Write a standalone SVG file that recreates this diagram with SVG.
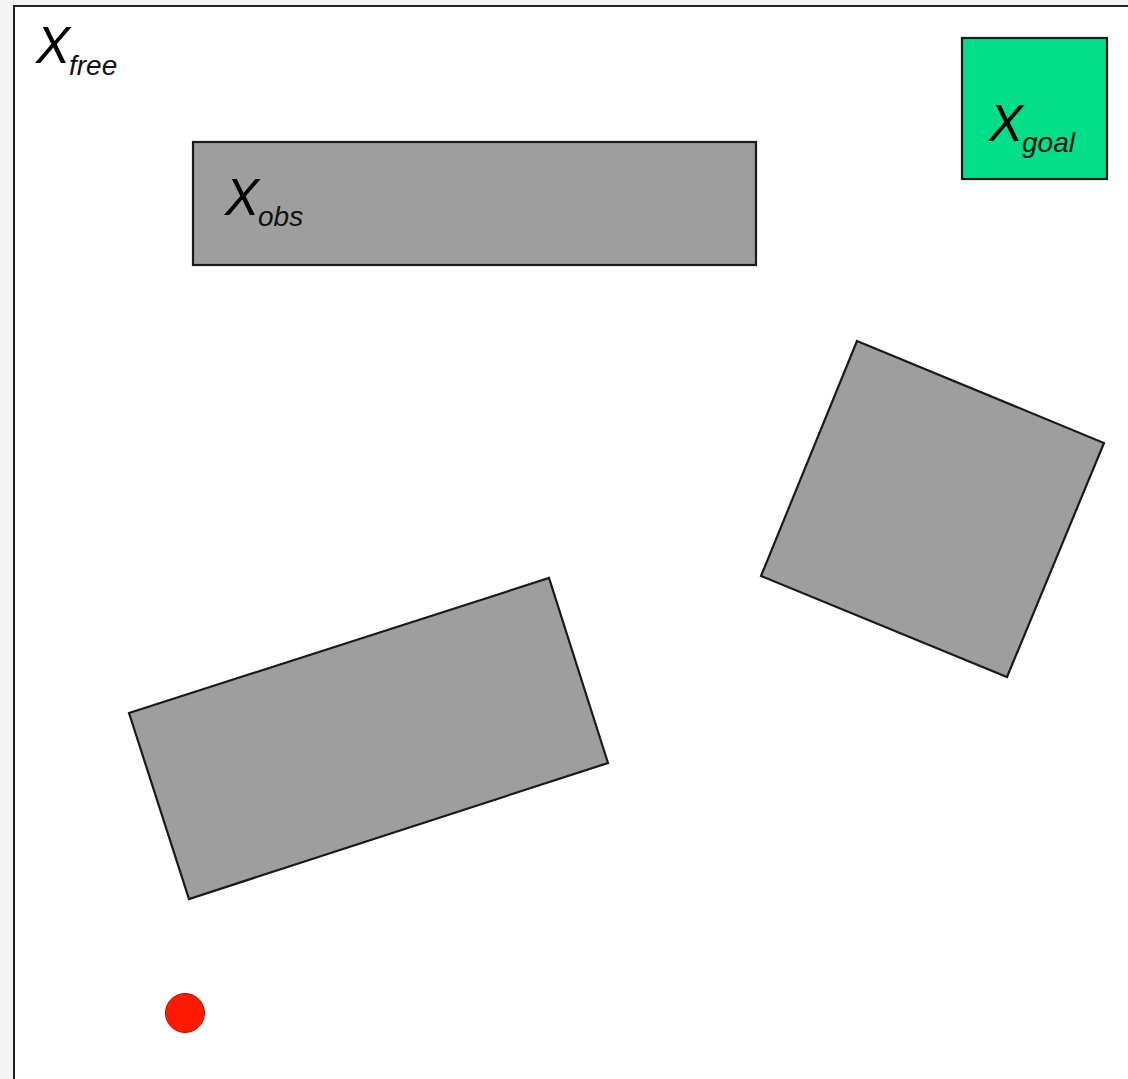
<svg xmlns="http://www.w3.org/2000/svg" width="1128" height="1079" viewBox="0 0 1128 1079">
<style>
.obs{fill:#9e9e9e;stroke:#1a1a1a;stroke-width:2.2}
.big{font-family:"Liberation Sans",Arial,sans-serif;font-style:italic;font-size:51px;fill:#000}
.sub{font-family:"Liberation Sans",Arial,sans-serif;font-style:italic;font-size:28px;fill:#111}
</style>
<rect x="0" y="0" width="1128" height="1079" fill="#f4f4f4"/>
<rect id="free" x="14" y="6" width="1130" height="1090" fill="#ffffff" stroke="#222" stroke-width="2"/>
<g id="label-free"><text class="big" x="36" y="63">X</text><text class="sub" x="69" y="75">free</text></g>
<g id="goal"><rect x="962" y="38" width="145" height="141" fill="#02df8a" stroke="#1a1a1a" stroke-width="2.2"/><text class="big" x="989" y="141">X</text><text class="sub" x="1022" y="152">goal</text></g>
<g id="obs1"><rect class="obs" x="193" y="142" width="563" height="123"/><text class="big" x="225" y="215">X</text><text class="sub" x="258" y="226">obs</text></g>
<g id="obs2"><polygon class="obs" points="857,341 1104,443 1007,677 761,576"/></g>
<g id="obs3"><polygon class="obs" points="129,713 549,578 608,763 189,899"/></g>
<g id="start"><circle cx="185" cy="1013" r="19.5" fill="#ff1a00" stroke="#b01000" stroke-width="1"/></g>
<g id="connectors"></g>
</svg>
